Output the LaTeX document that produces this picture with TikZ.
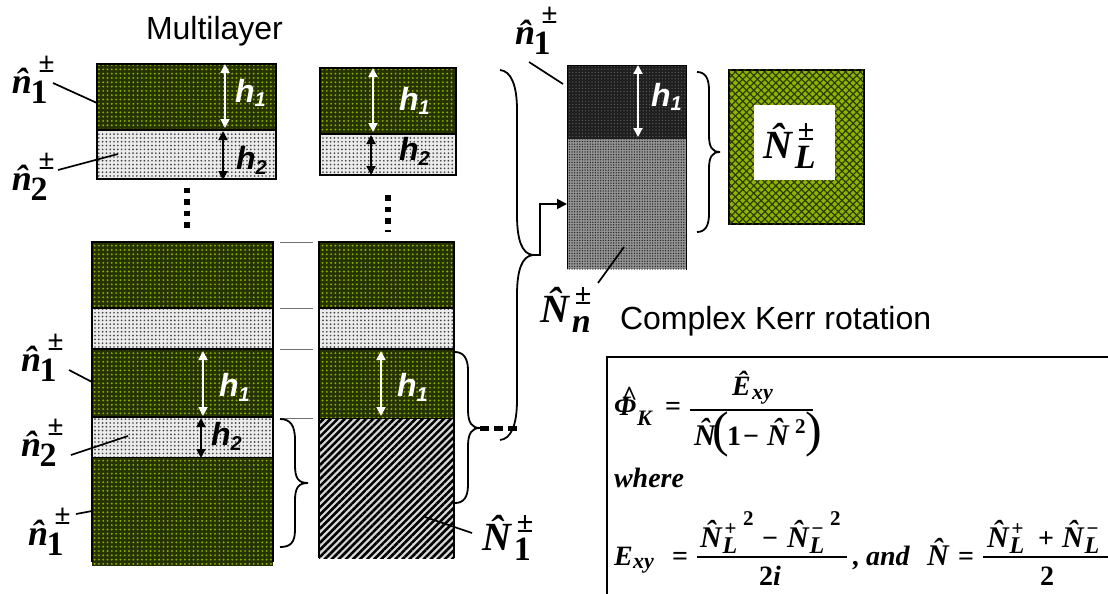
\documentclass[tikz,border=0pt]{standalone}
\usepackage{fontspec}
\usepackage{amsmath}
\setmainfont{Liberation Serif}
\newfontfamily\labelsans{Liberation Sans}
\usetikzlibrary{patterns.meta,arrows.meta}
\definecolor{gdark}{HTML}{263200}
\definecolor{gdot}{HTML}{8DB000}
\definecolor{lbase}{HTML}{EBEBEB}
\definecolor{ldot}{HTML}{444444}
\definecolor{boxgreen}{HTML}{92B200}
\definecolor{boxdark}{HTML}{2A3A00}
\newcommand\nlab[2]{{\fontsize{36}{36}\selectfont\bfseries\itshape\^#1}\kern-1.5pt\rlap{\kern 8pt\raisebox{21pt}{\fontsize{29}{29}\selectfont\bfseries ±}}\raisebox{-10pt}{\fontsize{34}{34}\selectfont\bfseries #2}}
\newcommand\Nlab[2]{{\fontsize{40}{40}\selectfont\bfseries\itshape\^#1}\kern 3pt\rlap{\kern 3pt\raisebox{18pt}{\fontsize{30}{30}\selectfont\bfseries ±}}\raisebox{-10pt}{\fontsize{34}{34}\selectfont\bfseries #2}}
\newcommand\hlab[1]{{\labelsans\bfseries\itshape\fontsize{32}{32}\selectfont h\raisebox{-5pt}{\fontsize{20}{20}\selectfont\itshape #1}}}
\newcommand\fm[1]{{\fontsize{28}{28}\selectfont\bfseries\itshape #1}}
\newcommand\fs[1]{{\fontsize{22}{22}\selectfont\bfseries\itshape #1}}
\newcommand\fu[1]{{\fontsize{28}{28}\selectfont\bfseries #1}}
\newcommand\sgn[1]{{\fontsize{21}{21}\selectfont\bfseries #1}}
\newcommand\Nhat{{\fontsize{30}{30}\selectfont\bfseries\itshape\^N}}
\newcommand\NL[1]{\Nhat\rlap{\raisebox{-6pt}{\kern 1pt{\fontsize{24}{24}\selectfont\bfseries\itshape L}}}\raisebox{12pt}{\kern 3pt\sgn{#1}}}
\begin{document}
\begin{tikzpicture}[x=1pt,y=-1pt,
  every node/.style={inner sep=0pt,outer sep=0pt},
  darklayer/.style={draw=black,line width=1.2pt,preaction={fill=gdark},pattern={Dots[radius=1.05pt,distance=4.3pt]},pattern color=gdot},
  lightlayer/.style={draw=black,line width=1.2pt,preaction={fill=lbase},pattern={Dots[radius=.95pt,distance=3.8pt]},pattern color=ldot},
  hatchlayer/.style={draw=black,line width=1.2pt,preaction={fill=white!85!black},pattern={Lines[angle=45,distance=5pt,line width=2.6pt]},pattern color=black},
  charlayer/.style={draw=black,line width=.8pt,preaction={fill=black!88},pattern={Dots[radius=.6pt,distance=3.2pt]},pattern color=black!60},
  greylayer/.style={draw=black,line width=.8pt,preaction={fill=black!42},pattern={Dots[radius=.75pt,distance=2.6pt]},pattern color=black!85},
  greenbox/.style={draw=black,line width=2pt,preaction={fill=boxgreen},postaction={pattern={Lines[angle=45,distance=5.2pt,line width=1.2pt]},pattern color=boxdark},pattern={Lines[angle=-45,distance=5.2pt,line width=1.2pt]},pattern color=boxdark},
  whitearrow/.style={draw=white,line width=1.8pt,{Triangle[width=9pt,length=9pt]}-{Triangle[width=9pt,length=9pt]}},
  blackarrow/.style={draw=black,line width=1.8pt,{Triangle[width=9pt,length=9pt]}-{Triangle[width=9pt,length=9pt]}},
  leader/.style={draw=black,line width=1.7pt},
  tick/.style={draw=black!55,line width=.9pt},
  curly/.style={draw=black,line width=1.8pt},
  dotcol/.style={draw=black,line width=5.5pt,dash pattern=on 5.5pt off 6pt},
  lbl/.style={anchor=base west},
  title/.style={anchor=base west,font=\labelsans\fontsize{32}{32}\selectfont},
  hwhite/.style={anchor=base west,text=white},
  hblack/.style={anchor=base west,text=black}]
\useasboundingbox (0,0) rectangle (1108,594);
\fill[white] (0,0) rectangle (1108,594);

% top-left stacks
\path[darklayer] (97,64) rectangle (276,130);
\path[lightlayer] (97,130) rectangle (276,179);
\path[darklayer] (320,68) rectangle (456,134);
\path[lightlayer] (320,134) rectangle (456,175);
% lower stacks
\path[darklayer] (92,242) rectangle (273,308);
\path[lightlayer] (92,308) rectangle (273,349);
\path[darklayer] (92,349) rectangle (273,417);
\path[lightlayer] (92,417) rectangle (273,458);
\path[darklayer,draw=none] (92,458) rectangle (273,566);
\draw[black,line width=1.2pt] (92,458)--(92,562) (273,458)--(273,562);
\path[darklayer] (319,242) rectangle (454,308);
\path[lightlayer] (319,308) rectangle (454,349);
\path[darklayer] (319,349) rectangle (454,419);
\path[hatchlayer,draw=none] (319,419) rectangle (454,558);
\draw[black,line width=1.2pt] (319,419)--(319,558) (454,419)--(454,558);
% right stack and result
\path[charlayer] (567,65) rectangle (686,139);
\path[greylayer,draw=none] (567,139) rectangle (686,269);
\draw[black,line width=1pt] (567,139)--(567,269) (686,139)--(686,270);
\path[greenbox] (729,70) rectangle (864,224);
\node[fill=white,minimum width=81pt,minimum height=75pt,anchor=north west] (nlbox) at (754,105) {};

% ticks
\foreach \yy/\nm in {242/a,308/b,349/c,418/d}{
  \coordinate (t\nm1) at (280,\yy); \coordinate (t\nm2) at (313,\yy);
  \draw[tick] (t\nm1)--(t\nm2);}

% dots
\coordinate (d1a) at (187,187.5); \coordinate (d1b) at (187,230);
\coordinate (d2a) at (388,195); \coordinate (d2b) at (388,232);
\draw[dotcol] (d1a)--(d1b);
\draw[dotcol] (d2a)--(d2b);

% thickness arrows
\foreach \nm/\xa/\ya/\yb/\st in {a/225/64/128/whitearrow,b/223/131/180/blackarrow,c/373/68/132/whitearrow,d/371/135/175/blackarrow,e/203/351/416/whitearrow,f/201/418/458/blackarrow,g/381/351/416/whitearrow,h/638/65/137/whitearrow}{
  \coordinate (ar\nm1) at (\xa,\ya); \coordinate (ar\nm2) at (\xa,\yb);
  \draw[\st] (ar\nm1)--(ar\nm2);}
\node[hwhite] (h1a) at (235,102) {\hlab{1}};
\node[hblack] (h2a) at (236,169) {\hlab{2}};
\node[hwhite] (h1b) at (399,110) {\hlab{1}};
\node[hblack] (h2b) at (399,160) {\hlab{2}};
\node[hwhite] (h1c) at (219,396) {\hlab{1}};
\node[hblack] (h2c) at (211,445) {\hlab{2}};
\node[hwhite] (h1d) at (397,396) {\hlab{1}};
\node[hwhite] (h1e) at (651,106) {\hlab{1}};

% labels
\node[lbl] (n1a) at (12,93) {\nlab{n}{1}};
\node[lbl] (n2a) at (12,190) {\nlab{n}{2}};
\node[lbl] (n1b) at (21,371) {\nlab{n}{1}};
\node[lbl] (n2b) at (21,456) {\nlab{n}{2}};
\node[lbl] (n1c) at (28,545) {\nlab{n}{1}};
\node[lbl] (n1d) at (515,45) {\nlab{n}{1}};
\node[lbl] (N1) at (482,550) {\Nlab{N}{1}};
\node[lbl] (Nn) at (540,322) {\Nlab{N}{\itshape n}};
\node[lbl] (NL) at (763,158) {\Nlab{N}{\itshape L}};

% leaders
\foreach \nm/\xa/\ya/\xb/\yb in {a/53/83/97/103,b/58/170/118/154,c/69/370/92/382,d/71/455/128/436,e/76/514/92/511,f/472/533/425/517,g/529/62/563/84,h/598/283/624/247}{
  \coordinate (le\nm1) at (\xa,\ya); \coordinate (le\nm2) at (\xb,\yb);
  \draw[leader] (le\nm1)--(le\nm2);}

% braces
\coordinate (b1) at (280,419); \coordinate (b1t) at (308,483); \coordinate (b1e) at (280,547);
\draw[curly] (b1) .. controls (290,419) and (295,425) .. (295,440) -- (295,465) .. controls (295,478) and (298,483) .. (b1t) .. controls (298,483) and (295,488) .. (295,501) -- (295,530) .. controls (295,543) and (290,547) .. (b1e);
\coordinate (b2) at (455,352); \coordinate (b2t) at (480,428); \coordinate (b2e) at (455,503);
\draw[curly] (b2) .. controls (463,352) and (468,358) .. (468,370) -- (468,410) .. controls (468,423) and (472,428) .. (b2t) .. controls (472,428) and (468,433) .. (468,446) -- (468,485) .. controls (468,498) and (463,503) .. (b2e);
\coordinate (b3) at (500,70); \coordinate (b3t) at (533,255); \coordinate (b3e) at (500,440);
\draw[curly] (b3) .. controls (511,71) and (517,85) .. (517,110) -- (517,215) .. controls (517,240) and (522,254) .. (b3t) .. controls (522,256) and (517,270) .. (517,295) -- (517,400) .. controls (517,425) and (511,439) .. (b3e);
\coordinate (b4) at (697,72); \coordinate (b4t) at (720,152); \coordinate (b4e) at (697,232);
\draw[curly] (b4) .. controls (705,72) and (709,78) .. (709,90) -- (709,135) .. controls (709,147) and (712,152) .. (b4t) .. controls (712,152) and (709,157) .. (709,169) -- (709,214) .. controls (709,226) and (705,232) .. (b4e);
% dashes between braces and elbow
\coordinate (dsh) at (517,428);
\draw[draw=black,line width=5pt,dash pattern=on 9pt off 5pt] (b2t)--(dsh);
\coordinate (elbtgt) at (567,204);
\draw[draw=black,line width=1.8pt,-{Triangle[width=10pt,length=10pt]}] (b3t) -- (540,255) -- (540,204) -- (elbtgt);

% titles
\node[title] (multi) at (146,40) {Multilayer};
\node[title] (kerr) at (620,329) {Complex Kerr rotation};

% equation frame
\coordinate (f1) at (607,594); \coordinate (f2) at (607,357); \coordinate (f3) at (1108,357);
\draw[black,line width=1.3pt] (f1)--(f2)--(f3);
% first equation
\node[lbl] (phi) at (614,415) {\fm{\rlap{\kern 7pt\raisebox{10pt}{\^{}}}Φ}};
\node[lbl] (phik) at (637,425) {\fs{K}};
\node[lbl] (eq1) at (665,415) {\fu{=}};
\node[lbl] (num1) at (732,395) {\fm{\^E}};
\node[lbl] (num1s) at (752,399) {\fs{xy}};
\coordinate (fr1a) at (690,410); \coordinate (fr1b) at (813,410);
\draw[black,line width=1.1pt] (fr1a)--(fr1b);
\node[lbl] (den1) at (694,445) {\Nhat};
\node[lbl] (den2) at (727,445) {\fu{1}};
\node[lbl] (den3) at (743,445) {\fu{−}};
\node[lbl] (den4) at (767,445) {\Nhat};
\node[lbl] (den5) at (795,433) {\sgn{2}};
\node[lbl,font=\fontsize{50}{50}\selectfont] (lp) at (712,446) {(};
\node[lbl,font=\fontsize{50}{50}\selectfont] (rp) at (805,446) {)};
\node[lbl] (where) at (614,487) {\fm{where}};
% second line
\node[lbl] (exy) at (614,565) {\fm{E}};
\node[lbl] (exys) at (633,568) {\fs{xy}};
\node[lbl] (eq2) at (672,565) {\fu{=}};
\coordinate (fr2a) at (697,557); \coordinate (fr2b) at (847,557);
\draw[black,line width=1.1pt] (fr2a)--(fr2b);
\node[lbl] (numa1) at (700,547) {\NL{+}};
\node[lbl] (numa2) at (743,525) {\sgn{2}};
\node[lbl] (numa3) at (762,547) {\fu{−}};
\node[lbl] (numa4) at (787,547) {\NL{−}};
\node[lbl] (numa5) at (830,525) {\sgn{2}};
\node[anchor=base] (dena) at (770,585) {\fu{2}\fm{i}};
\node[lbl] (comma) at (853,565) {\fm{,}};
\node[lbl] (and) at (866,565) {\fm{and}};
\node[lbl] (Nh) at (927,565) {\Nhat};
\node[lbl] (eq3) at (958,565) {\fu{=}};
\coordinate (fr3a) at (983,557); \coordinate (fr3b) at (1108,557);
\draw[black,line width=1.1pt] (fr3a)--(fr3b);
\node[lbl] (numb1) at (987,547) {\NL{+}};
\node[lbl] (numb2) at (1038,547) {\fu{+}};
\node[lbl] (numb3) at (1062,547) {\NL{−}};
\node[anchor=base] (denb) at (1047,585) {\fu{2}};
\end{tikzpicture}
\end{document}
